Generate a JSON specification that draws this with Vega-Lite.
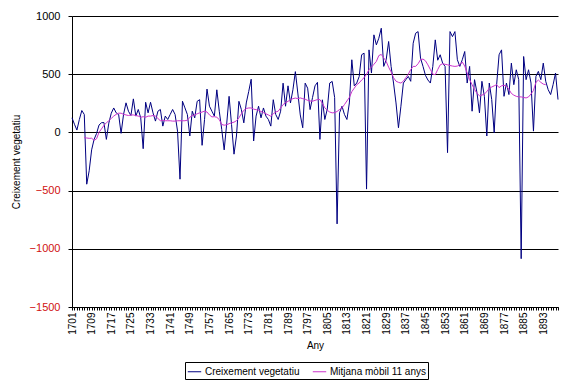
{
  "$schema": "https://vega.github.io/schema/vega-lite/v6.json",
  "width": 486,
  "height": 291,
  "autosize": {"type": "none"},
  "padding": {"left": 72, "top": 16, "right": 10, "bottom": 77},
  "background": "white",
  "config": {"view": {"stroke": null}, "font": "Liberation Sans"},
  "data": {"values": [
    {"any":1701,"cv":125},{"any":1702,"cv":70},{"any":1703,"cv":20},{"any":1704,"cv":111},{"any":1705,"cv":188},
    {"any":1706,"cv":154,"mm":-45},{"any":1707,"cv":-445,"mm":-48},{"any":1708,"cv":-330,"mm":-51},{"any":1709,"cv":-150,"mm":-50},{"any":1710,"cv":-60,"mm":-68},
    {"any":1711,"cv":-10,"mm":-55},{"any":1712,"cv":63,"mm":0},{"any":1713,"cv":83,"mm":30},{"any":1714,"cv":85,"mm":60},{"any":1715,"cv":-60,"mm":83},
    {"any":1716,"cv":80,"mm":100},{"any":1717,"cv":165,"mm":120},{"any":1718,"cv":210,"mm":140},{"any":1719,"cv":168,"mm":155},{"any":1720,"cv":154,"mm":165},
    {"any":1721,"cv":-8,"mm":165},{"any":1722,"cv":154,"mm":155},{"any":1723,"cv":254,"mm":150},{"any":1724,"cv":182,"mm":145},{"any":1725,"cv":145,"mm":150},
    {"any":1726,"cv":288,"mm":150},{"any":1727,"cv":140,"mm":145},{"any":1728,"cv":197,"mm":140},{"any":1729,"cv":125,"mm":130},{"any":1730,"cv":-140,"mm":135},
    {"any":1731,"cv":259,"mm":130},{"any":1732,"cv":168,"mm":140},{"any":1733,"cv":259,"mm":140},{"any":1734,"cv":168,"mm":145},{"any":1735,"cv":97,"mm":140},
    {"any":1736,"cv":182,"mm":120},{"any":1737,"cv":197,"mm":100},{"any":1738,"cv":54,"mm":105},{"any":1739,"cv":140,"mm":100},{"any":1740,"cv":111,"mm":100},
    {"any":1741,"cv":154,"mm":100},{"any":1742,"cv":197,"mm":97},{"any":1743,"cv":154,"mm":97},{"any":1744,"cv":11,"mm":100},{"any":1745,"cv":-402,"mm":100},
    {"any":1746,"cv":268,"mm":100},{"any":1747,"cv":211,"mm":100},{"any":1748,"cv":154,"mm":105},{"any":1749,"cv":-31,"mm":130},{"any":1750,"cv":182,"mm":145},
    {"any":1751,"cv":125,"mm":150},{"any":1752,"cv":267,"mm":160},{"any":1753,"cv":281,"mm":168},{"any":1754,"cv":-111,"mm":175},{"any":1755,"cv":111,"mm":182},
    {"any":1756,"cv":372,"mm":175},{"any":1757,"cv":225,"mm":150},{"any":1758,"cv":182,"mm":133},{"any":1759,"cv":140,"mm":135},{"any":1760,"cv":366,"mm":130},
    {"any":1761,"cv":182,"mm":110},{"any":1762,"cv":26,"mm":68},{"any":1763,"cv":-150,"mm":62},{"any":1764,"cv":68,"mm":65},{"any":1765,"cv":310,"mm":75},
    {"any":1766,"cv":68,"mm":82},{"any":1767,"cv":-187,"mm":88},{"any":1768,"cv":-31,"mm":100},{"any":1769,"cv":267,"mm":125},{"any":1770,"cv":196,"mm":160},
    {"any":1771,"cv":82,"mm":190},{"any":1772,"cv":253,"mm":205},{"any":1773,"cv":352,"mm":210},{"any":1774,"cv":457,"mm":210},{"any":1775,"cv":-74,"mm":200},
    {"any":1776,"cv":140,"mm":195},{"any":1777,"cv":225,"mm":190},{"any":1778,"cv":125,"mm":180},{"any":1779,"cv":210,"mm":170},{"any":1780,"cv":140,"mm":160},
    {"any":1781,"cv":111,"mm":150},{"any":1782,"cv":54,"mm":139},{"any":1783,"cv":281,"mm":160},{"any":1784,"cv":154,"mm":175},{"any":1785,"cv":111,"mm":182},
    {"any":1786,"cv":182,"mm":210},{"any":1787,"cv":423,"mm":239},{"any":1788,"cv":225,"mm":255},{"any":1789,"cv":400,"mm":267},{"any":1790,"cv":253,"mm":280},
    {"any":1791,"cv":366,"mm":290},{"any":1792,"cv":522,"mm":295},{"any":1793,"cv":338,"mm":290},{"any":1794,"cv":150,"mm":296},{"any":1795,"cv":40,"mm":290},
    {"any":1796,"cv":423,"mm":285},{"any":1797,"cv":380,"mm":275},{"any":1798,"cv":196,"mm":270},{"any":1799,"cv":300,"mm":268},{"any":1800,"cv":400,"mm":275},
    {"any":1801,"cv":430,"mm":282},{"any":1802,"cv":-60,"mm":282},{"any":1803,"cv":280,"mm":250},{"any":1804,"cv":111,"mm":211},{"any":1805,"cv":200,"mm":190},
    {"any":1806,"cv":424,"mm":175},{"any":1807,"cv":438,"mm":168},{"any":1808,"cv":300,"mm":170},{"any":1809,"cv":-786,"mm":180},{"any":1810,"cv":168,"mm":197},
    {"any":1811,"cv":225,"mm":211},{"any":1812,"cv":154,"mm":239},{"any":1813,"cv":111,"mm":270},{"any":1814,"cv":253,"mm":300},{"any":1815,"cv":624,"mm":350},
    {"any":1816,"cv":400,"mm":380},{"any":1817,"cv":424,"mm":410},{"any":1818,"cv":480,"mm":425},{"any":1819,"cv":667,"mm":450},{"any":1820,"cv":681,"mm":470},
    {"any":1821,"cv":-487,"mm":500},{"any":1822,"cv":709,"mm":540},{"any":1823,"cv":510,"mm":560},{"any":1824,"cv":838,"mm":585},{"any":1825,"cv":752,"mm":610},
    {"any":1826,"cv":809,"mm":660},{"any":1827,"cv":895,"mm":670},{"any":1828,"cv":567,"mm":640},{"any":1829,"cv":624,"mm":610},{"any":1830,"cv":781,"mm":560},
    {"any":1831,"cv":567,"mm":520},{"any":1832,"cv":424,"mm":470},{"any":1833,"cv":253,"mm":440},{"any":1834,"cv":40,"mm":430},{"any":1835,"cv":225,"mm":424},
    {"any":1836,"cv":424,"mm":440},{"any":1837,"cv":453,"mm":470},{"any":1838,"cv":481,"mm":500},{"any":1839,"cv":439,"mm":540},{"any":1840,"cv":766,"mm":567},
    {"any":1841,"cv":852,"mm":567},{"any":1842,"cv":866,"mm":590},{"any":1843,"cv":638,"mm":625},{"any":1844,"cv":567,"mm":630},{"any":1845,"cv":490,"mm":615},
    {"any":1846,"cv":450,"mm":580},{"any":1847,"cv":424,"mm":540},{"any":1848,"cv":567,"mm":500},{"any":1849,"cv":795,"mm":496},{"any":1850,"cv":620,"mm":540},
    {"any":1851,"cv":667,"mm":580},{"any":1852,"cv":595,"mm":590},{"any":1853,"cv":567,"mm":585},{"any":1854,"cv":-174,"mm":581},{"any":1855,"cv":866,"mm":575},
    {"any":1856,"cv":823,"mm":570},{"any":1857,"cv":866,"mm":567},{"any":1858,"cv":624,"mm":570},{"any":1859,"cv":567,"mm":581},{"any":1860,"cv":624,"mm":605},
    {"any":1861,"cv":695,"mm":570},{"any":1862,"cv":424,"mm":510},{"any":1863,"cv":567,"mm":453},{"any":1864,"cv":182,"mm":410},{"any":1865,"cv":453,"mm":370},
    {"any":1866,"cv":340,"mm":335},{"any":1867,"cv":168,"mm":315},{"any":1868,"cv":439,"mm":320},{"any":1869,"cv":310,"mm":330},{"any":1870,"cv":-31,"mm":350},
    {"any":1871,"cv":424,"mm":380},{"any":1872,"cv":282,"mm":390},{"any":1873,"cv":-3,"mm":400},{"any":1874,"cv":410,"mm":410},{"any":1875,"cv":667,"mm":385},
    {"any":1876,"cv":709,"mm":400},{"any":1877,"cv":310,"mm":405},{"any":1878,"cv":424,"mm":396},{"any":1879,"cv":325,"mm":370},{"any":1880,"cv":595,"mm":335},
    {"any":1881,"cv":410,"mm":320},{"any":1882,"cv":538,"mm":310},{"any":1883,"cv":453,"mm":305},{"any":1884,"cv":-1085,"mm":305},{"any":1885,"cv":652,"mm":300},
    {"any":1886,"cv":453,"mm":296},{"any":1887,"cv":538,"mm":305},{"any":1888,"cv":424,"mm":330},{"any":1889,"cv":11,"mm":360},{"any":1890,"cv":481,"mm":430},
    {"any":1891,"cv":524,"mm":450},{"any":1892,"cv":453,"mm":430},{"any":1893,"cv":595,"mm":415},{"any":1894,"cv":439,"mm":410},{"any":1895,"cv":367},
    {"any":1896,"cv":325},{"any":1897,"cv":410},{"any":1898,"cv":510},{"any":1899,"cv":282}
  ]},
  "transform": [
    {"fold": ["cv", "mm"], "as": ["serie", "valor"]},
    {"filter": "isValid(datum.valor)"}
  ],
  "mark": {"type": "line", "strokeWidth": 1, "interpolate": "linear"},
  "encoding": {
    "x": {
      "field": "any", "type": "quantitative",
      "scale": {"domain": [1701, 1899], "nice": false, "zero": false},
      "axis": {
        "title": "Any", "titleFont": "Liberation Sans", "titleFontSize": 10, "titleFontWeight": "normal", "titleColor": "black", "titlePadding": 6,
        "tickCount": 198, "labelExpr": "(datum.value - 1701) % 8 == 0 ? datum.value : ''",
        "labelAngle": -90, "labelFontSize": 10, "labelColor": "black", "labelOverlap": false, "labelPadding": 2,
        "labelFont": "Liberation Sans", "labelBound": false, "labelFlush": false,
        "grid": false, "domainColor": "black", "tickColor": "black", "tickSize": 3
      }
    },
    "y": {
      "field": "valor", "type": "quantitative",
      "scale": {"domain": [-1500, 1000], "nice": false},
      "axis": {
        "title": "Creixement vegetatiu", "titleFont": "Liberation Sans", "titleFontSize": 10, "titleFontWeight": "normal", "titleColor": "black", "titlePadding": 8,
        "values": [-1500, -1000, -500, 0, 500, 1000], "format": "d",
        "labelFontSize": 11, "labelFont": "Liberation Sans", "labelPadding": 8, "labelFlush": false,
        "labelColor": {"condition": {"test": "datum.value < 0", "value": "#d01010"}, "value": "black"},
        "grid": true, "gridColor": "black", "gridOpacity": 1, "gridWidth": 1,
        "domainColor": "black", "tickColor": "black", "tickSize": 4
      }
    },
    "color": {
      "field": "serie", "type": "nominal",
      "scale": {"domain": ["cv", "mm"], "range": ["#000080", "#cc33cc"]},
      "legend": {
        "title": null, "orient": "none", "legendX": 113, "legendY": 346, "direction": "horizontal",
        "labelExpr": "datum.label == 'cv' ? 'Creixement vegetatiu' : 'Mitjana mòbil 11 anys'",
        "symbolType": "stroke", "symbolSize": 180, "symbolStrokeWidth": 1,
        "labelFont": "Liberation Sans", "labelFontSize": 10, "labelColor": "black",
        "strokeColor": "black", "fillColor": "white", "padding": 2, "columnPadding": 10, "labelOffset": 3
      }
    }
  }
}
